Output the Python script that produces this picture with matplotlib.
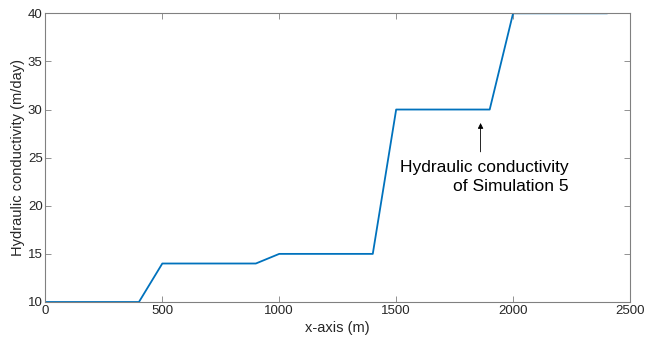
import matplotlib
matplotlib.use("Agg")
import matplotlib.pyplot as plt

# Piecewise hydraulic conductivity profile along the x-axis
x_m = [0, 400, 500, 900, 1000, 1400, 1500, 1900, 2000, 2400]
k_mday = [10, 10, 14, 14, 15, 15, 30, 30, 40, 40]

x_ticks = [0, 500, 1000, 1500, 2000, 2500]
y_ticks = [10, 15, 20, 25, 30, 35, 40]

plt.rcParams['font.family'] = ['Liberation Sans', 'DejaVu Sans']

fig = plt.figure(figsize=(6.46, 3.47), dpi=100)
ax = fig.add_axes([45.4 / 646, 1 - 302 / 347, (630 - 45.4) / 646, (302 - 13.3) / 347])

ax.plot(x_m, k_mday, color='#0072BD', linewidth=1.3)

ax.set_xlim(0, 2500)
ax.set_ylim(10, 40)
ax.set_xticks(x_ticks)
ax.set_yticks(y_ticks)

axis_gray = '#262626'
for s in ax.spines.values():
    s.set_color('#808080')
    s.set_linewidth(0.8)
ax.tick_params(direction='in', top=True, right=True, length=4, width=0.6,
               color='#808080', labelsize=9.5, labelcolor=axis_gray, pad=2)

ax.set_xlabel('x-axis (m)', fontsize=10.5, color=axis_gray, labelpad=3)
ax.set_ylabel('Hydraulic conductivity (m/day)', fontsize=10.5, color=axis_gray, labelpad=2)

ax.annotate('', xy=(1861, 28.6), xytext=(1861, 25.6),
            arrowprops=dict(arrowstyle='-|>', color='black', lw=0.6,
                            mutation_scale=8, shrinkA=0, shrinkB=0))
ax.text(2237, 23.0, 'Hydraulic conductivity\nof Simulation 5', ha='right', va='center',
        fontsize=12.5, color='black', linespacing=1.3)

fig.savefig('out.png', dpi=100)
